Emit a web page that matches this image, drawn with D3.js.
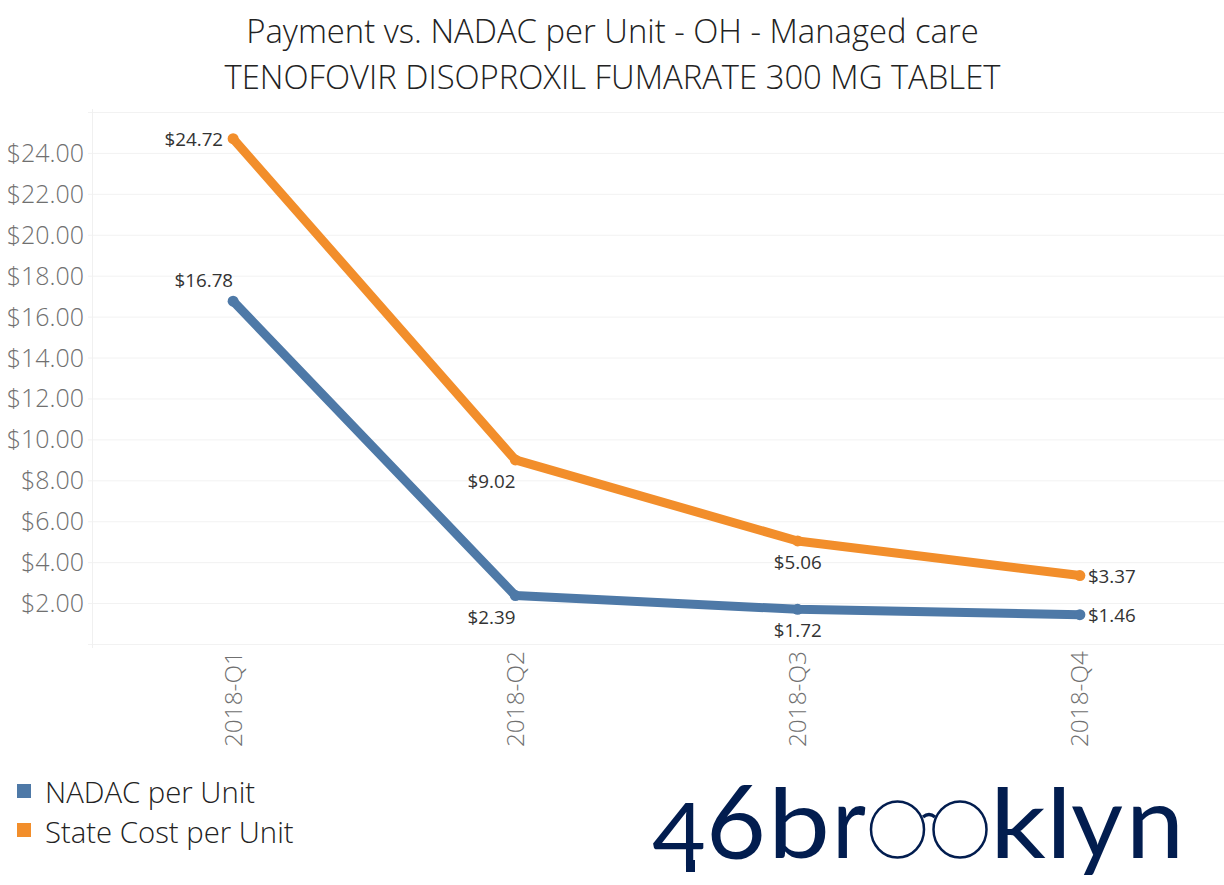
<!DOCTYPE html>
<html>
<head>
  <meta charset="utf-8">
  <title>Payment vs. NADAC</title>
  <script src="https://d3js.org/d3.v7.min.js"></script>
  <style>
body { margin: 0; background: #fff; }
text { font-family: "Open Sans", sans-serif; }
.title { font-size: 32.8px; font-weight: 300; fill: #222; text-anchor: middle; }
.tick text { font-size: 25px; font-weight: 300; fill: #707070; }
.val { font-size: 18.8px; fill: #333; }
.leg { font-size: 29.3px; font-weight: 300; fill: #222; }
.logo { font-family: Lato, sans-serif; fill: #021d4f; }
</style>
</head>
<body>
<div id="chart"></div>
<script>
var quarters = ["2018-Q1", "2018-Q2", "2018-Q3", "2018-Q4"];
var nadac = [16.78, 2.39, 1.72, 1.46];
var stateCost = [24.72, 9.02, 5.06, 3.37];
var yTicks = [2, 4, 6, 8, 10, 12, 14, 16, 18, 20, 22, 24];
var titles = ["Payment vs. NADAC per Unit - OH - Managed care", "TENOFOVIR DISOPROXIL FUMARATE 300 MG TABLET"];
var seriesNames = ["NADAC per Unit", "State Cost per Unit"];
var colors = ["#4e79a7", "#f28e2b"];

var w = 1224, h = 885;
var svg = d3.select("#chart").append("svg").attr("width", w).attr("height", h).style("display", "block");

var x = d3.scaleBand().domain(quarters).range([92, 1221]);
var y = d3.scaleLinear().domain([0, 26]).range([644.5, 112.5]);
var cx = q => x(q) + x.bandwidth() / 2;

svg.selectAll("text.title").data(titles).enter().append("text")
  .attr("class", "title")
  .attr("x", 612.5)
  .attr("y", (d, i) => 43 + i * 46)
  .text(d => d);

// gridlines
svg.append("g").selectAll("line").data([0].concat(yTicks, [26])).enter().append("line")
  .attr("x1", 88).attr("x2", w)
  .attr("y1", d => y(d)).attr("y2", d => y(d))
  .attr("stroke", "#f2f2f2").attr("stroke-width", 1);
svg.append("line").attr("x1", 92.5).attr("x2", 92.5).attr("y1", 109).attr("y2", 648)
  .attr("stroke", "#f0f0f0");

var yAxis = d3.axisLeft(y).tickValues(yTicks).tickSize(0).tickPadding(8).tickFormat(d3.format("$.2f"));
var gy = svg.append("g").attr("transform", "translate(92,0)").call(yAxis);
gy.select(".domain").remove();

var xAxis = d3.axisBottom(x).tickSize(0).tickPadding(0);
var gx = svg.append("g").attr("transform", "translate(0,644)").call(xAxis);
gx.select(".domain").remove();
gx.selectAll("text")
  .attr("transform", "rotate(-90)")
  .attr("text-anchor", "end")
  .attr("x", -7).attr("y", 0).attr("dy", "0.35em")
  .style("font-size", "24.4px");

var line = d3.line().x((d, i) => cx(quarters[i])).y(d => y(d));
[nadac, stateCost].forEach(function (s, k) {
  svg.append("path").attr("d", line(s))
    .attr("fill", "none").attr("stroke", colors[k]).attr("stroke-width", 9).attr("stroke-linejoin", "round");
  svg.selectAll("circle.s" + k).data(s).enter().append("circle")
    .attr("class", "s" + k)
    .attr("cx", (d, i) => cx(quarters[i])).attr("cy", d => y(d)).attr("r", 5.5)
    .attr("fill", colors[k]);
});

// label offsets from each point: anchor, dx, dy
var nadacLabelPos = [["end", 0, -14], ["end", 0, 28], ["end", 24, 28], ["start", 8, 7]];
var stateLabelPos = [["end", -10, 7], ["end", 0, 28], ["end", 24, 28], ["start", 8, 7]];
[[nadac, nadacLabelPos], [stateCost, stateLabelPos]].forEach(function (p) {
  p[0].forEach(function (d, i) {
    svg.append("text").attr("class", "val")
      .attr("x", cx(quarters[i]) + p[1][i][1])
      .attr("y", y(d) + p[1][i][2])
      .attr("text-anchor", p[1][i][0])
      .text("$" + d.toFixed(2));
  });
});

seriesNames.forEach(function (n, i) {
  svg.append("rect").attr("x", 17).attr("y", 784 + i * 39).attr("width", 14).attr("height", 14).attr("fill", colors[i]);
  svg.append("text").attr("class", "leg").attr("x", 45).attr("y", 803 + i * 40).text(n);
});

// logo, glyph by glyph: letter, left, width, baseline, size
var logoGlyphs = [
  ["4", 652, 54, 866, 88], ["6", 706, 60, 859, 103],
  ["b", 768, 62, 858, 96], ["r", 832, 34, 858, 100],
  ["k", 990, 56, 858, 96], ["l", 1046, 26, 858, 96],
  ["y", 1071, 52, 858, 100], ["n", 1126, 58, 858, 100]
];
var logo = svg.append("g");
logoGlyphs.forEach(function (g) {
  logo.append("text").attr("class", "logo")
    .attr("x", g[1]).attr("y", g[3]).attr("font-size", g[4])
    .attr("textLength", g[2]).attr("lengthAdjust", "spacingAndGlyphs")
    .text(g[0]);
});
// the 4 hangs below the baseline, stem runs on a bit
logo.append("rect").attr("x", 686).attr("y", 860).attr("width", 9).attr("height", 12).attr("fill", "#021d4f");
[897.5, 960].forEach(function (c) {
  logo.append("ellipse").attr("cx", c).attr("cy", 829.5).attr("rx", 26.5).attr("ry", 28)
    .attr("fill", "none").attr("stroke", "#021d4f").attr("stroke-width", 2.5);
});
logo.append("path").attr("d", "M923 817 Q929 812 935 817").attr("fill", "none").attr("stroke", "#021d4f").attr("stroke-width", 3.5);
</script>
</body>
</html>
